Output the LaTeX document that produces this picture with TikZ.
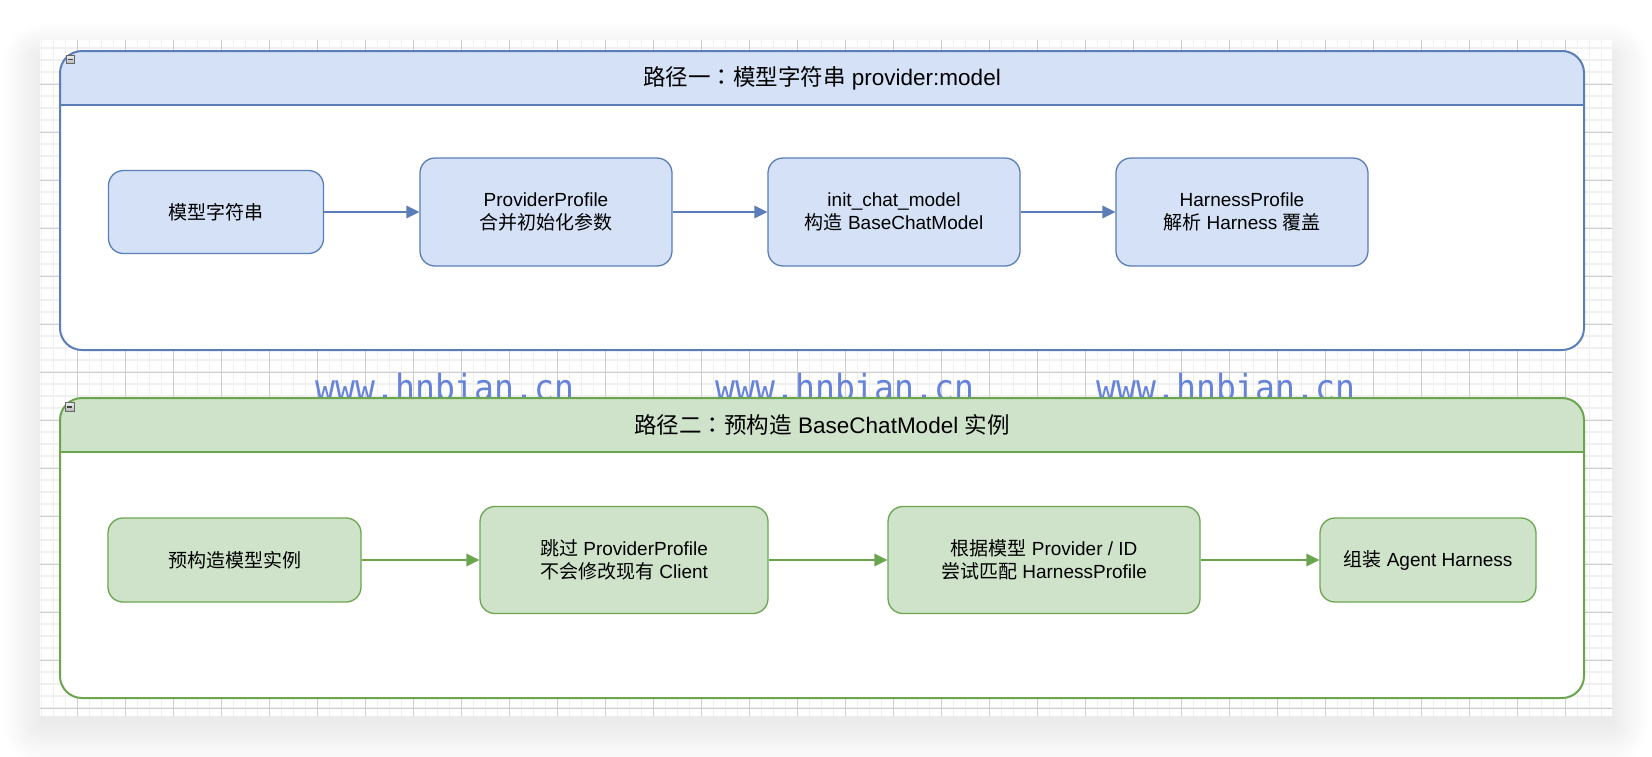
\documentclass[tikz,border=0pt]{standalone}
\usepackage{fontspec}
\setmainfont{Liberation Sans}
\newfontfamily\cjk{Noto Sans CJK SC}
\newfontfamily\cjktc{Noto Sans CJK TC}
\newfontfamily\wmfont{DejaVu Sans Mono}
\usetikzlibrary{arrows.meta}
\newcommand\zh[1]{{\cjk #1}}
\newcommand\zhcolon{{\cjktc ：}}
\newcommand\wmtext{\scalebox{0.92}[1]{www.hnbian.cn}}
\definecolor{bfill}{HTML}{D4E1F6}
\definecolor{bline}{HTML}{5B7DB8}
\definecolor{gfill}{HTML}{CFE3CA}
\definecolor{gline}{HTML}{6BA64F}
\definecolor{wmcol}{HTML}{6683DB}
\definecolor{gminor}{HTML}{F0F0F0}
\definecolor{gmajor}{HTML}{CDCDCD}
\tikzset{
  stepbox/.style={draw, rounded corners=15pt, line width=1.3pt, align=center,
    inner sep=0pt, font=\fontsize{19}{23}\selectfont, text=black},
  bluebox/.style={stepbox, fill=bfill, draw=bline},
  greenbox/.style={stepbox, fill=gfill, draw=gline},
  barrow/.style={draw=bline, line width=1.6pt, -{Triangle[length=13pt,width=12.5pt]}},
  garrow/.style={draw=gline, line width=1.6pt, -{Triangle[length=13pt,width=12.5pt]}},
  titletext/.style={font=\fontsize{22.5}{27}\selectfont, text=black, inner sep=0pt},
  wmark/.style={font=\wmfont\fontsize{36}{36}\selectfont, text=wmcol, anchor=base, inner sep=0pt},
  panelline/.style={line width=2pt, rounded corners=22pt},
}
\begin{document}
\begin{tikzpicture}[x=1pt,y=-1pt]
\useasboundingbox (0,0) rectangle (1652,756);
\fill[white] (0,0) rectangle (1652,756);
% soft shadow around the canvas
\foreach \i in {0,...,19}{
  \fill[black, opacity=0.0048, rounded corners={2*\i}] ({40-1.9*\i},{58-1.8*\i}) rectangle ({1612+1.9*\i},{724+2.1*\i});
}
% canvas and grid
\fill[white] (40,40) rectangle (1612,716);
\foreach \k in {0,...,130}{ \draw[gminor, line width=1.3pt] ({41.3+12*\k},40) -- ({41.3+12*\k},716); }
\foreach \k in {0,...,55}{ \draw[gminor, line width=1.3pt] (40,{48+12*\k}) -- (1612,{48+12*\k}); }
\foreach \k in {0,...,31}{ \draw[gmajor, line width=1pt] ({77.3+48*\k},40) -- ({77.3+48*\k},716); }
\foreach \k in {0,...,13}{ \draw[gmajor, line width=1pt] (40,{84+48*\k}) -- (1612,{84+48*\k}); }

% ---------------- top panel ----------------
\fill[white, rounded corners=22pt] (60,51) rectangle (1584,350);
\begin{scope}
  \clip (50,40) rectangle (1600,105);
  \fill[bfill, rounded corners=22pt] (60,51) rectangle (1584,350);
\end{scope}
\draw[bline, panelline] (60,51) rectangle (1584,350);
\draw[bline, line width=2pt] (60,105) -- (1584,105);
\draw[gray!80!black, line width=0.6pt, top color=gray!15, bottom color=gray!55] (66,55) rectangle (74.5,63.5);
\draw[black!75, line width=1.4pt] (67.8,59.3) -- (72.7,59.3);
\node[titletext] (t1) at (822,78) {\zh{路径一}\zhcolon\zh{模型字符串} provider:model};

\node[bluebox, minimum width=215pt, minimum height=83pt] (b1) at (216,212) {\zh{模型字符串}};
\node[bluebox, minimum width=252pt, minimum height=108pt] (b2) at (546,212) {ProviderProfile\\\zh{合并初始化参数}};
\node[bluebox, minimum width=252pt, minimum height=108pt] (b3) at (894,212) {init\_chat\_model\\\zh{构造} BaseChatModel};
\node[bluebox, minimum width=252pt, minimum height=108pt] (b4) at (1242,212) {HarnessProfile\\\zh{解析} Harness \zh{覆盖}};
\draw[barrow] (b1) -- (b2);
\draw[barrow] (b2) -- (b3);
\draw[barrow] (b3) -- (b4);

% ---------------- watermarks ----------------
\node[wmark] (w1) at (445,400) {\wmtext};
\node[wmark] (w2) at (845,400) {\wmtext};
\node[wmark] (w3) at (1226,400) {\wmtext};

% ---------------- bottom panel ----------------
\fill[white, rounded corners=22pt] (60,398) rectangle (1584,698);
\begin{scope}
  \clip (50,380) rectangle (1600,452);
  \fill[gfill, rounded corners=22pt] (60,398) rectangle (1584,698);
\end{scope}
\draw[gline, panelline] (60,398) rectangle (1584,698);
\draw[gline, line width=2pt] (60,452) -- (1584,452);
\draw[gray!80!black, line width=0.6pt, top color=gray!15, bottom color=gray!55] (65.5,402.5) rectangle (74,411);
\draw[black!75, line width=1.4pt] (67.3,406.8) -- (72.2,406.8);
\node[titletext] (t2) at (822,425) {\zh{路径二}\zhcolon\zh{预构造} BaseChatModel \zh{实例}};

\node[greenbox, minimum width=253pt, minimum height=84pt] (g1) at (234.5,560) {\zh{预构造模型实例}};
\node[greenbox, minimum width=288pt, minimum height=107pt] (g2) at (624,560) {\zh{跳过} ProviderProfile\\\zh{不会修改现有} Client};
\node[greenbox, minimum width=312pt, minimum height=107pt] (g3) at (1044,560) {\zh{根据模型} Provider / ID\\\zh{尝试匹配} HarnessProfile};
\node[greenbox, minimum width=216pt, minimum height=84pt] (g4) at (1428,560) {\zh{组装} Agent Harness};
\draw[garrow] (g1) -- (g2);
\draw[garrow] (g2) -- (g3);
\draw[garrow] (g3) -- (g4);
\end{tikzpicture}
\end{document}
